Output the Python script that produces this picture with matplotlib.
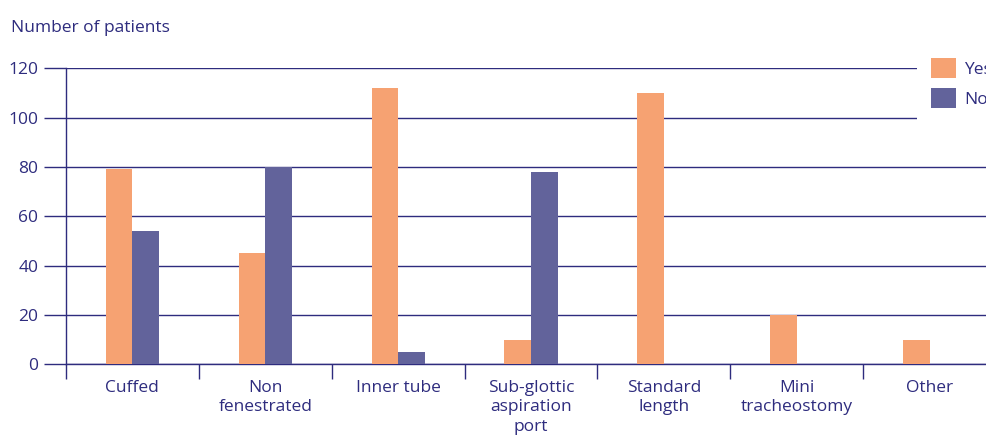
import numpy as np, matplotlib
matplotlib.use("Agg"); import matplotlib.pyplot as plt
from matplotlib.ticker import FixedLocator

categories = ["Cuffed", "Non\nfenestrated", "Inner tube", "Sub-glottic\naspiration\nport",
              "Standard\nlength", "Mini\ntracheostomy", "Other"]
yes_vals = [79, 45, 112, 10, 110, 20, 10]
no_vals = [54, 80, 5, 78, 0, 0, 0]
series = ["Yes", "No"]
yticks = [0, 20, 40, 60, 80, 100, 120]

NAVY = "#2E2C7E"; ORG = "#F6A272"; PUR = "#62639B"
plt.rcParams.update({"font.family": ["Open Sans", "DejaVu Sans"], "font.size": 12.5,
                     "text.color": NAVY, "axes.edgecolor": NAVY})

W, H = 987, 436
fig = plt.figure(figsize=(W / 100, H / 100), dpi=100)
# axes runs slightly past the right edge of the canvas
ax = fig.add_axes([66 / W, (H - 364.3) / H, (996 - 66) / W, (364.3 - 68.3) / H])

x = np.arange(len(categories))
bw = 0.2
ax.bar(x - bw / 2, yes_vals, bw, color=ORG, label=series[0], zorder=3)
ax.bar(x + bw / 2, no_vals, bw, color=PUR, label=series[1], zorder=3)

ax.set_xlim(-0.5, len(categories) - 0.5)
ax.set_ylim(0, 120)
ax.set_yticks(yticks)
ax.yaxis.grid(True, color=NAVY, lw=1.0)
ax.set_axisbelow(True)
for s in ["top", "right"]:
    ax.spines[s].set_visible(False)
ax.spines["left"].set_linewidth(1.0)
ax.spines["bottom"].set_linewidth(1.0)

ax.tick_params(axis="y", length=15.5, width=1.0, color=NAVY, pad=4.5, labelcolor=NAVY, labelsize=12.5)
ax.set_xticks(x)
ax.set_xticklabels(categories, linespacing=1.32)
ax.tick_params(axis="x", which="major", length=0, pad=11, labelcolor=NAVY, labelsize=12.5)
ax.xaxis.set_minor_locator(FixedLocator(np.arange(len(categories) + 1) - 0.5))
ax.tick_params(axis="x", which="minor", length=10.5, width=1.0, color=NAVY)
for t in ax.get_xticklabels():
    t.set_verticalalignment("top")

fig.text(11 / W, (H - 31.5) / H, "Number of patients", fontsize=12.5, color=NAVY, va="baseline")

# white legend box also hides the top two gridlines at the right
leg = ax.legend(loc="upper left", bbox_to_anchor=(917 / W, (H - 44) / H),
                bbox_transform=fig.transFigure, frameon=True, fancybox=False,
                facecolor="white", edgecolor="none", framealpha=1,
                handlelength=1.45, handleheight=1.45, handletextpad=0.5,
                labelspacing=0.55, borderpad=0.78, borderaxespad=0, fontsize=12.5)
for t in leg.get_texts():
    t.set_color(NAVY)
leg.set_zorder(5)

fig.savefig("out.png", dpi=100)
